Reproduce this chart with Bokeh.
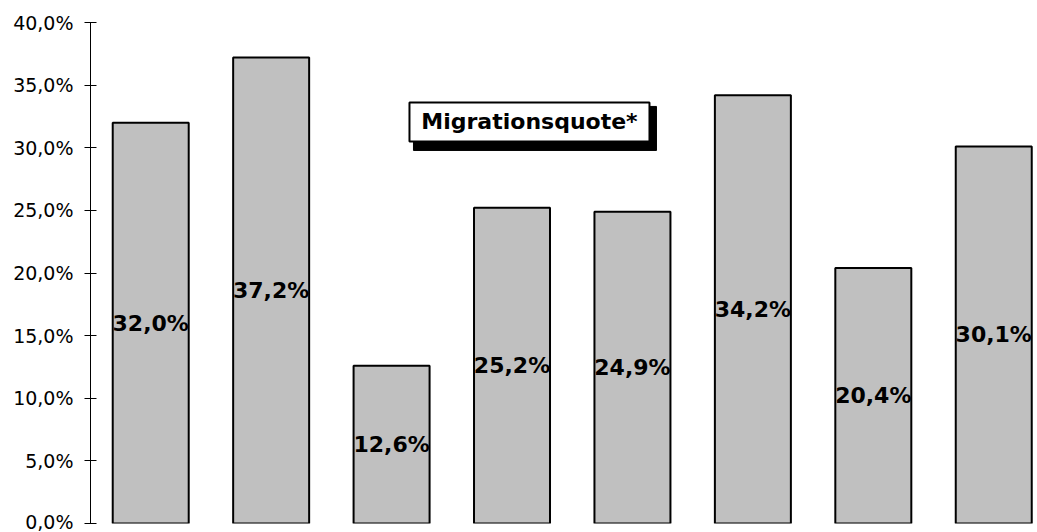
from bokeh.plotting import figure
from bokeh.models import ColumnDataSource, Range1d, FixedTicker, Label
from bokeh.core.properties import value
from bokeh.embed import file_html
from bokeh.resources import INLINE

# Data
values = [32.0, 37.2, 12.6, 25.2, 24.9, 34.2, 20.4, 30.1]
value_labels = ["32,0%", "37,2%", "12,6%", "25,2%", "24,9%", "34,2%", "20,4%", "30,1%"]
tick_values = [0, 5, 10, 15, 20, 25, 30, 35, 40]
tick_labels = ["0,0%", "5,0%", "10,0%", "15,0%", "20,0%", "25,0%", "30,0%", "35,0%", "40,0%"]
title_text = "Migrationsquote*"

xs = [i + 0.5 for i in range(len(values))]
src = ColumnDataSource(dict(x=xs, top=values, mid=[v / 2 for v in values], lab=value_labels))

p = figure(width=1037, height=532, output_backend="svg", toolbar_location=None,
           x_range=Range1d(0, 7.855), y_range=Range1d(0, 40),
           min_border_left=90, min_border_right=1, min_border_top=22, min_border_bottom=9)
p.outline_line_color = None
p.xgrid.visible = False
p.ygrid.visible = False
p.xaxis.visible = False
p.background_fill_color = "white"
p.border_fill_color = "white"

ax = p.yaxis[0]
ax.ticker = FixedTicker(ticks=tick_values)
ax.major_label_overrides = {t: l for t, l in zip(tick_values, tick_labels)}
ax.minor_tick_line_color = None
ax.major_tick_in = 6
ax.major_tick_out = 6
ax.axis_line_color = "black"
ax.major_tick_line_color = "black"
ax.major_label_text_font = "DejaVu Sans"
ax.major_label_text_font_size = "19px"
ax.major_label_text_color = "black"
ax.major_label_standoff = 11

p.vbar(x="x", top="top", bottom=0, width=0.631, source=src,
       fill_color="#C0C0C0", line_color="black", line_width=2)

p.text(x="x", y="mid", text="lab", source=src, text_align="center", text_baseline="middle",
       text_font=value("DejaVu Sans"), text_font_style="bold", text_font_size="22px",
       text_color="black")

# Title box with shadow
bx, by = 3.645, 32.06
dx, dy = 5.5 / 120.43, 6.5 / 12.525
p.rect(x=[bx + dx], y=[by - dy], width=243, height=44, width_units="screen", height_units="screen",
       fill_color="black", line_color="black")
p.rect(x=[bx], y=[by], width=240, height=39, width_units="screen", height_units="screen",
       fill_color="white", line_color="black", line_width=2)
p.add_layout(Label(x=bx, y=by, text=title_text, text_align="center", text_baseline="middle",
                   text_font="DejaVu Sans", text_font_style="bold", text_font_size="22px",
                   text_color="black"))

open("out.html", "w").write(file_html(p, INLINE))
